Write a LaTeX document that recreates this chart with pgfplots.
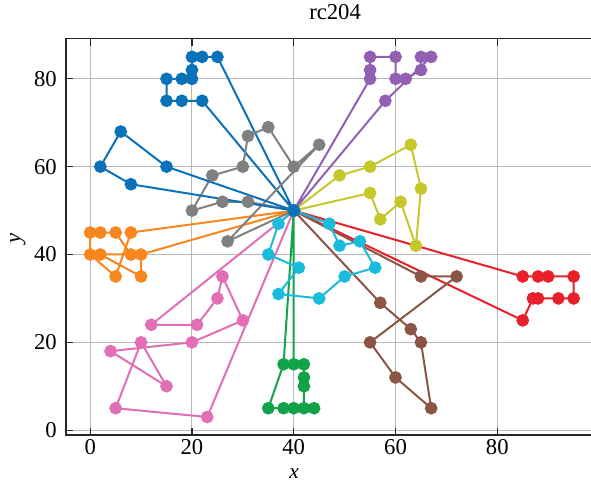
\documentclass[border=0pt]{standalone}
\usepackage{fontspec}
\setmainfont{Liberation Serif}
\usepackage{pgfplots}
\pgfplotsset{compat=1.18}

\definecolor{rBlue}{HTML}{0B72B9}
\definecolor{rOrange}{HTML}{F7861F}
\definecolor{rGreen}{HTML}{12A24A}
\definecolor{rRed}{HTML}{E8202A}
\definecolor{rPurple}{HTML}{9260B3}
\definecolor{rBrown}{HTML}{8C5444}
\definecolor{rPink}{HTML}{E26FB5}
\definecolor{rGray}{HTML}{808080}
\definecolor{rOlive}{HTML}{C5C82A}
\definecolor{rCyan}{HTML}{19BCDA}

\newcommand{\lblfont}{\fontsize{17}{20}\selectfont}

\pgfplotsset{
  route/.style={color=#1, line width=1.5pt, mark=*, mark size=4pt,
                mark options={solid, fill=#1, draw=#1}},
}

\begin{document}
\begin{tikzpicture}
\begin{axis}[
  at={(0,0)}, anchor=south west,
  scale only axis, width=398.85pt, height=297.1pt,
  xmin=-4.75, xmax=99.75, ymin=-1.1, ymax=89.1,
  xtick={0,20,40,60,80}, ytick={0,20,40,60,80},
  tick align=inside, tick pos=both, major tick length=5pt,
  grid=major, grid style={color=black!28, line width=0.75pt},
  axis line style={color=black!85, line width=0.9pt},
  every tick/.style={color=black!85, line width=0.9pt},
  /pgf/number format/assume math mode=true,
  tick label style={font=\lblfont},
  xticklabel style={inner sep=0pt, anchor=north, yshift=-3pt},
  yticklabel style={inner sep=0pt, anchor=east, xshift=-6.75pt},
  title={rc204},
  title style={at={(axis description cs:0.506,1)}, anchor=base,
               yshift=8.25pt, inner sep=0pt, font=\lblfont},
  xlabel={\textit{x}},
  xlabel style={at={(axis description cs:0.429,-0.097)}, anchor=center,
                inner sep=0pt, font=\fontsize{16}{19}\selectfont},
  ylabel={\textit{y}},
  ylabel style={at={(axis description cs:-0.0903,0.497)}, anchor=center,
                rotate=0, inner sep=0pt, font=\lblfont},
]
% route 1
\addplot[route=rBlue] coordinates {
  (40,50) (25,85) (22,85) (20,85) (20,82) (20,80) (18,80) (15,80)
  (15,75) (18,75) (22,75) (40,50)};
% route 2
\addplot[route=rOrange] coordinates {
  (40,50) (8,45) (5,35) (0,40) (0,45) (2,45) (5,45) (8,40) (2,40)
  (10,35) (10,40) (40,50)};
% route 3
\addplot[route=rGreen] coordinates {
  (40,50) (38,15) (35,5) (38,5) (40,5) (44,5) (42,5) (42,10) (42,12)
  (42,15) (40,15) (40,50)};
% route 4
\addplot[route=rRed] coordinates {
  (40,50) (85,35) (88,35) (90,35) (95,35) (95,30) (92,30) (88,30)
  (87,30) (85,25) (40,50)};
% route 5
\addplot[route=rPurple] coordinates {
  (40,50) (55,80) (55,82) (55,85) (60,85) (60,80) (62,80) (65,82)
  (65,85) (67,85) (58,75) (40,50)};
% route 6
\addplot[route=rBrown] coordinates {
  (40,50) (57,29) (63,23) (65,20) (67,5) (60,12) (55,20) (72,35)
  (65,35) (40,50)};
% route 7
\addplot[route=rPink] coordinates {
  (40,50) (12,24) (21,24) (25,30) (26,35) (30,25) (20,20) (4,18)
  (15,10) (10,20) (5,5) (23,3) (40,50)};
% route 8
\addplot[route=rGray] coordinates {
  (40,50) (31,52) (26,52) (20,50) (24,58) (30,60) (31,67) (35,69)
  (40,60) (45,65) (27,43) (40,50)};
% route 9
\addplot[route=rOlive] coordinates {
  (40,50) (49,58) (55,60) (63,65) (65,55) (64,42) (61,52) (57,48)
  (55,54) (40,50)};
% route 10
\addplot[route=rCyan] coordinates {
  (40,50) (37,47) (35,40) (41,37) (37,31) (45,30) (50,35) (56,37)
  (53,43) (49,42) (47,47) (40,50)};
% route 11
\addplot[route=rBlue] coordinates {
  (40,50) (15,60) (6,68) (2,60) (8,56) (40,50)};
\end{axis}
\pgfresetboundingbox
\path[use as bounding box] (-49.5pt,-34.5pt) rectangle (393.75pt,326.25pt);
\end{tikzpicture}
\end{document}
